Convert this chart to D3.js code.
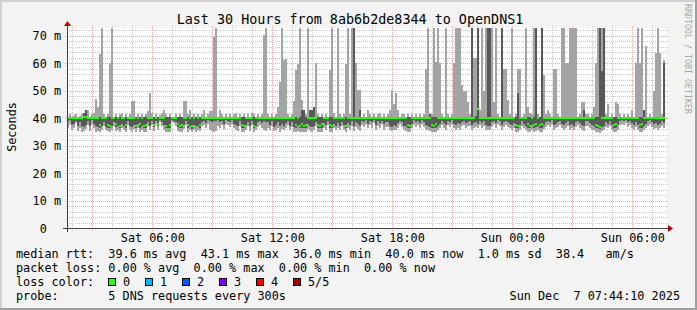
<!DOCTYPE html>
<html>
<head>
<meta charset="utf-8">
<script src="https://cdn.jsdelivr.net/npm/d3@7"></script>
<style>
body { margin: 0; background: #f3f3f3; }
svg text { font-family: "DejaVu Sans Mono", monospace; white-space: pre; }
</style>
</head>
<body>
<div id="plot"></div>
<script>
// ---- data, one sample every 6 minutes ----
const startTime = Date.UTC(2025, 11, 6, 1, 44, 10);
const endTime = Date.UTC(2025, 11, 7, 7, 44, 10);
const stepMinutes = 6;

// highest ping (outer smoke top)
const smokeMax = [
  40.5, 41.5, 40.5, 41.2, 41.5, 40.5, 40.8, 41.5, 42, 43, 43, 40.5, 41.5, 41.8, 46.9, 44, 63.3, 73, 41.5, 40.5,
  41.5, 60, 73, 40.5, 41.5, 40.5, 41.5, 42, 40.5, 41.5, 40.5, 41.5, 46.2, 46.2, 40.5, 41.5, 40.5, 41.5, 40.5, 41.5,
  42.5, 49.2, 42, 40.5, 41.5, 40.5, 41.2, 42, 43, 41.5, 40.5, 41.5, 40.5, 40.5, 41.5, 40.5, 41.5, 40.5, 46.2, 46.2,
  41.5, 43, 40.5, 41.5, 40.5, 41.5, 40.5, 41.5, 43, 40.5, 41.5, 42.7, 42.7, 69.6, 73, 40.5, 43, 41.5, 40.5, 41.5,
  40.5, 41.5, 40.5, 41.5, 42, 40.5, 41.5, 40.5, 41.5, 40.5, 41.5, 40.5, 42, 41.5, 40.5, 41.5, 40.5, 41.5, 70.2, 73,
  41.5, 40.5, 41.5, 40.5, 41.5, 44, 53.2, 73, 61, 61.4, 41.5, 40.5, 41.5, 46.2, 57.4, 59.5, 73, 46.5, 43, 41.5,
  73, 43, 43, 44, 60.1, 41.5, 40.5, 41.5, 40.5, 41.5, 40.5, 57.4, 73, 42, 40.5, 73, 41.5, 40.5, 41.5, 59.5,
  73, 41.5, 73, 73, 60, 50.2, 50.2, 40.5, 41.5, 40.5, 43, 41.5, 40.5, 41.5, 40.5, 41.5, 42, 40.5, 41.5, 40.5,
  41.5, 43, 50.2, 45, 49.2, 43, 40.5, 41.5, 41.5, 40.5, 41.5, 40.5, 41.5, 40.5, 41.5, 40.5, 41.5, 40.5, 41.5, 58,
  73, 41.5, 41.5, 73, 60.2, 73, 60, 41.5, 40.5, 73, 41.5, 40.5, 41.5, 60, 73, 73, 73, 52, 50, 50,
  45.7, 41.5, 73, 62, 61.8, 73, 43, 73, 50, 73, 73, 73, 73, 46, 73, 41.5, 40.5, 73, 58, 58,
  46.7, 41.5, 73, 40.5, 41.5, 58, 58, 40.5, 41.5, 73, 44, 42, 41.5, 73, 73, 41.5, 40.5, 73, 55.6, 41.5,
  43, 41.5, 40.5, 58, 58, 41.5, 40.5, 73, 73, 60, 60, 73, 73, 73, 73, 40.5, 41.5, 46, 46, 41.5,
  41.5, 40.5, 41.5, 44, 60, 73, 73, 73, 73, 41.5, 45, 40.5, 41.5, 40.5, 46, 45, 41.5, 40.5, 41.5, 40.5,
  41.5, 40.5, 43, 40.5, 60, 73, 60, 73, 43, 66.3, 40.5, 41.5, 40.5, 50, 63.5, 73, 63.5, 41.5, 61, null
];

// 4th ping (inner smoke top)
const smokeHigh = [
  40.5, 40.5, 40.5, 40.5, 40.5, 40.5, 40.5, 40.5, 42, 43, 40.5, 40.5, 40.5, 40.5, 40.5, 40.5, 40.5, 40.5, 40.5, 40.5,
  40.5, 40.5, 40.5, 40.5, 40.5, 40.5, 40.5, 40.5, 40.5, 40.5, 40.5, 40.5, 40.5, 40.5, 40.5, 40.5, 40.5, 40.5, 40.5, 40.5,
  40.5, 40.5, 40.5, 40.5, 40.5, 40.5, 40.5, 40.5, 40.5, 40.5, 40.5, 40.5, 40.5, 40.5, 40.5, 40.5, 40.5, 40.5, 40.5, 40.5,
  40.5, 40.5, 40.5, 40.5, 40.5, 40.5, 40.5, 40.5, 40.5, 40.5, 40.5, 40.5, 40.5, 40.5, 40.5, 40.5, 40.5, 40.5, 40.5, 40.5,
  40.5, 40.5, 40.5, 40.5, 40.5, 40.5, 40.5, 40.5, 40.5, 40.5, 40.5, 40.5, 40.5, 40.5, 40.5, 40.5, 40.5, 40.5, 40.5, 40.5,
  40.5, 40.5, 40.5, 40.5, 40.5, 40.5, 40.5, 40.5, 40.5, 40.5, 40.5, 40.5, 40.5, 40.5, 40.5, 40.5, 40.5, 43, 43, 40.5,
  40.5, 43, 43, 44, 40.5, 40.5, 40.5, 40.5, 40.5, 40.5, 40.5, 40.5, 40.5, 40.5, 40.5, 40.5, 40.5, 40.5, 40.5, 40.5,
  40.5, 40.5, 40.5, 73, 40.5, 40.5, 43, 40.5, 40.5, 40.5, 40.5, 40.5, 40.5, 40.5, 40.5, 40.5, 40.5, 40.5, 40.5, 40.5,
  40.5, 40.5, 40.5, 40.5, 40.5, 40.5, 40.5, 40.5, 40.5, 40.5, 40.5, 40.5, 40.5, 40.5, 40.5, 40.5, 40.5, 40.5, 40.5, 40.5,
  40.5, 41.5, 40.5, 40.5, 40.5, 40.5, 40.5, 40.5, 40.5, 40.5, 40.5, 40.5, 40.5, 40.5, 40.5, 40.5, 40.5, 40.5, 40.5, 40.5,
  40.5, 40.5, 73, 40.5, 41.5, 73, 40.5, 40.5, 40.5, 40.5, 73, 73, 40.5, 40.5, 40.5, 40.5, 40.5, 73, 40.5, 40.5,
  40.5, 40.5, 40.5, 40.5, 40.5, 49, 40.5, 40.5, 40.5, 40.5, 40.5, 40.5, 40.5, 40.5, 73, 40.5, 40.5, 73, 40.5, 40.5,
  40.5, 40.5, 40.5, 40.5, 40.5, 40.5, 40.5, 40.5, 40.5, 40.5, 40.5, 40.5, 40.5, 40.5, 40.5, 40.5, 40.5, 40.5, 43, 40.5,
  40.5, 40.5, 40.5, 40.5, 40.5, 40.5, 73, 57, 73, 40.5, 40.5, 40.5, 40.5, 40.5, 40.5, 40.5, 40.5, 40.5, 40.5, 40.5,
  40.5, 40.5, 40.5, 40.5, 40.5, 40.5, 40.5, 40.5, 43, 40.5, 40.5, 40.5, 40.5, 40.5, 40.5, 40.5, 40.5, 40.5, 60, null
];

// median rtt (ms)
const median = [
  40, 40, 40, 40, 40, 40, 40, 40, 40.2, 40.2, 40, 40, 40, 40, 40, 40, 37.5, 40, 40, 40,
  37.5, 37.2, 40, 40, 37.8, 40, 37, 40, 40, 37.5, 40, 40, 40, 40, 37.2, 40, 37.8, 40, 37, 37.5,
  40, 40, 40, 37.5, 40, 37.8, 40, 40, 40, 37, 36, 37.5, 40, 40, 40, 37.8, 37, 37.5, 40, 40,
  37.5, 40, 37, 40, 36.8, 40, 37.5, 40, 40, 40, 40, 40, 40, 40, 40, 40, 40, 40, 40, 40,
  40, 40, 40, 40, 40, 40, 40, 37.5, 37, 40, 40, 40, 40, 37.2, 40, 40, 40, 40, 40, 40,
  40, 40, 40, 40, 40, 40, 40, 40, 40, 40, 40, 40, 40, 40, 37.5, 40, 37.2, 37.8, 37, 37.5,
  40, 40, 40, 40, 40, 37.5, 37, 37.8, 40, 40, 40, 37.5, 37.2, 40, 40, 40, 40, 40, 40, 37.2,
  40, 40, 40, 40, 40, 40, 40, 40, 40, 40, 40, 40, 40, 40, 40, 40, 40, 40, 40, 40,
  40, 40, 40, 40, 40, 40, 40, 40, 40, 40, 37.5, 37, 40, 40, 40, 40, 40, 40, 40, 40,
  40, 40, 37.5, 37.2, 37.8, 40, 40, 40, 40, 40, 40, 40, 40, 40, 40, 40, 40, 40, 40, 40,
  40, 40, 40, 40, 41, 43.1, 40, 40, 40, 40, 40, 40, 40, 40, 40, 40, 40, 40, 40, 40,
  40, 40, 40, 40, 37.5, 37, 40, 40, 40, 40, 37.8, 37.2, 40, 37.5, 37.8, 40, 37.5, 37.8, 40, 40,
  40, 40, 40, 40, 40, 40, 40, 40, 40, 40, 40, 40, 40, 40, 40, 40, 40, 40, 40, 40,
  40, 40, 40, 40, 37.5, 37.2, 36.8, 40, 40, 40, 40, 40, 40, 37.5, 37.8, 40, 40, 40, 40, 40,
  40, 40, 40, 40, 40, 40, 37.5, 37.8, 40, 40, 40, 40, 40, 40, 40, 40, 40, 40, 40, null
];

// 2nd ping (inner smoke bottom)
const smokeLow = [
  38.8, 39.2, 37.5, 38, 39, 37.2, 38.5, 37, 36.8, 37.5, 38.8, 37, 39.2, 38, 37, 36.8, 36.5, 37.2, 38.5, 36.8,
  36.5, 36.2, 37, 38.5, 36.8, 37.2, 36.5, 38, 37, 36.5, 38.8, 37.2, 36.8, 37.5, 36.2, 38, 36.5, 37.2, 36.2, 36.5,
  38.5, 37.2, 38.8, 36.8, 39, 37, 39.2, 38.5, 37.5, 36.5, 35.8, 36.5, 39.2, 39, 38.5, 36.8, 36.2, 36.5, 37.5, 38.8,
  36.5, 37.2, 36, 37.5, 36.2, 37, 36.5, 38.5, 39, 38.2, 39.2, 38.8, 38.5, 39, 38.8, 39.2, 38.5, 39, 38, 39.3,
  39, 38.5, 39.2, 38, 37.5, 37, 38.8, 36.5, 36.2, 37.5, 38.5, 37, 38.8, 36.5, 37.2, 38.5, 39, 38.2, 38.8, 38.5,
  38.5, 37.5, 38.8, 36.8, 37.5, 38.5, 37, 38, 37.2, 38.2, 38.8, 37.2, 38.5, 36.8, 36.5, 37, 36.2, 36.5, 36.2, 36.5,
  38, 37, 36.8, 37.2, 38.5, 36.5, 36.2, 36.5, 38.2, 37.5, 38.8, 36.5, 36.2, 37.8, 37, 38.2, 37.2, 38.5, 37.5, 36.2,
  38.2, 37.5, 38.8, 37, 38.5, 37.8, 37, 39, 38.5, 39.2, 38, 39, 38.5, 39.3, 37.5, 38.8, 38.2, 39, 37.8, 38.5,
  38.5, 37.2, 36.8, 37.5, 37, 38.2, 39, 38.5, 37.2, 37, 36.5, 36.2, 38, 39.2, 38.5, 39, 38.2, 39.2, 38.5, 37.5,
  37.2, 36.8, 36.2, 36.5, 36.2, 37, 38, 38.8, 38.2, 37.5, 39, 38.5, 39.2, 38, 37.5, 38.2, 37.8, 38.5, 39, 38.2,
  38.5, 38.8, 37.5, 38.2, 38.5, 37.8, 39, 38.2, 38.8, 37.5, 37, 37.2, 38.5, 39, 38.2, 39.2, 38.8, 37.5, 38.5, 39,
  38.5, 38, 37.5, 38.2, 36.5, 36.2, 37.5, 38.8, 38, 37.2, 36.5, 36.2, 37.5, 36.5, 36.8, 37.2, 36.2, 36.5, 37.5, 38.5,
  39, 38.5, 39.2, 37.5, 37.8, 38.5, 39, 38, 37.5, 38.2, 38.8, 37.5, 38, 37.2, 38.5, 39, 38.2, 37.5, 37, 38.8,
  38.8, 38.2, 37.5, 37, 36.5, 36.2, 36, 36.8, 37.2, 38.5, 38, 38.8, 37.5, 36.5, 36.5, 37.5, 39, 39.2, 38.8, 39.3,
  38.5, 39, 38.2, 37.5, 38.5, 37.5, 36.5, 36.2, 37, 38, 38.8, 39.2, 38.5, 37.8, 38.2, 37.5, 38, 38.8, 38.2, null
];

// lowest ping (outer smoke bottom)
const smokeMin = [
  36.5, 37.8, 35.5, 36.2, 38.2, 35.2, 36.5, 35, 35.3, 36, 37.5, 35.2, 38, 36.5, 35, 35.2, 35, 35.5, 37, 35.5,
  35.2, 35, 35.5, 37, 35.2, 35.8, 35, 36.5, 35.5, 35, 37.5, 35.5, 35, 36, 34.8, 36.5, 35, 35.5, 34.8, 35,
  37, 35.5, 37.5, 35.2, 38, 35.5, 38.5, 37, 35.8, 35, 34.8, 35, 38.5, 38.2, 37, 35.2, 35, 35, 36, 37.5,
  35, 35.5, 34.8, 35.8, 34.8, 35.5, 35.2, 37, 37.5, 36.2, 37.8, 35.5, 35.2, 35, 35.2, 37, 36.5, 37.5, 36, 38,
  37.5, 36.8, 38, 36.5, 35.5, 35.2, 37, 35, 34.8, 35.8, 37, 35.2, 37.5, 35, 35.5, 36.8, 37.5, 36.2, 35.5, 35.2,
  36.2, 35.5, 37.2, 35.2, 35.8, 36.5, 35, 36, 35.5, 36.5, 37.5, 35.5, 36.8, 35, 35, 35.2, 34.8, 35, 34.8, 35,
  36, 35.2, 35, 35.5, 37, 35, 34.8, 35, 36.5, 35.8, 37.5, 35, 34.8, 36.2, 35.5, 36.5, 35.5, 37, 35.8, 34.8,
  36.5, 35.5, 37.2, 35.2, 36.8, 36, 35.2, 37.5, 36.8, 38, 36.2, 37.5, 36.5, 38.2, 35.5, 37.2, 36.5, 37.8, 35.8, 36.8,
  36.8, 35.5, 35.2, 35.8, 35.5, 36.5, 37.8, 36.8, 35.5, 35.2, 35, 34.8, 36.2, 38, 36.8, 37.5, 36.5, 37.8, 36.8, 35.8,
  35.5, 35.2, 34.8, 35, 34.8, 35.5, 36.2, 37.5, 36.5, 35.8, 37.5, 36.8, 38, 36.2, 35.5, 36.5, 35.8, 37, 37.5, 36.2,
  37, 37.2, 35.8, 36.5, 36.8, 36.2, 37.5, 36.5, 37.2, 35.8, 35.5, 35.5, 36.8, 37.8, 36.5, 38, 37.2, 35.8, 36.8, 37.5,
  36.8, 36.2, 35.8, 36.5, 35, 34.8, 35.5, 37.2, 36.2, 35.5, 35, 34.8, 35.8, 35, 35.2, 35.5, 34.8, 35, 36, 36.8,
  37.5, 36.8, 38, 35.8, 36.2, 36.8, 37.5, 36.2, 35.5, 36.5, 37.2, 35.8, 36.2, 35.5, 36.8, 37.5, 36.5, 35.8, 35.2, 37,
  37.2, 36.5, 35.8, 35.5, 35, 34.8, 34.6, 35.2, 35.5, 36.8, 36.2, 37.2, 35.8, 35, 35, 35.8, 37.5, 38, 37.5, 38.2,
  36.8, 37.5, 36.5, 35.8, 36.8, 35.5, 35, 34.8, 35.5, 36.2, 37.2, 38, 36.8, 36, 36.5, 35.8, 36.2, 37.2, 36.5, null
];

// axis ticks
const yMajorTicks = [0, 10, 20, 30, 40, 50, 60, 70];
const yTickLabels = ["0  ", "10 m", "20 m", "30 m", "40 m", "50 m", "60 m", "70 m"];

// legend
const legendRows = [
  "median rtt:  39.6 ms avg  43.1 ms max  36.0 ms min  40.0 ms now  1.0 ms sd  38.4   am/s",
  "packet loss: 0.00 % avg  0.00 % max  0.00 % min  0.00 % now"
];
const lossLabels = ["0", "1", "2", "3", "4", "5/5"];
const lossColors = ["#26ff00", "#00b8ff", "#0059ff", "#7e00ff", "#ff0000", "#a00000"];
const probeText = "probe:       5 DNS requests every 300s";
const stampText = "Sun Dec  7 07:44:10 2025";
const titleText = "Last 30 Hours from 8ab6b2de8344 to OpenDNS1";

// ---- layout ----
const w = 697;
const h = 310;
const plot = {left: 67, right: 667, top: 28, bottom: 228};

const svg = d3.select("div#plot")
  .append("svg")
    .attr("width", w)
    .attr("height", h);

// background + 3d frame
svg.append("rect").attr("width", w).attr("height", h).attr("fill", "#f3f3f3");
svg.append("rect").attr("x", 0).attr("y", 0).attr("width", w).attr("height", 2).attr("fill", "#d0d0d0");
svg.append("rect").attr("x", 0).attr("y", 0).attr("width", 2).attr("height", h).attr("fill", "#d0d0d0");
svg.append("rect").attr("x", 0).attr("y", h - 2).attr("width", w).attr("height", 2).attr("fill", "#9e9e9e");
svg.append("rect").attr("x", w - 2).attr("y", 0).attr("width", 2).attr("height", h).attr("fill", "#9e9e9e");

// canvas
svg.append("rect")
  .attr("x", plot.left).attr("y", plot.top)
  .attr("width", plot.right - plot.left).attr("height", plot.bottom - plot.top)
  .attr("fill", "#ffffff");

const xScale = d3.scaleUtc()
  .domain([startTime, endTime])
  .range([plot.left, plot.right]);

const yScale = d3.scaleLinear()
  .domain([0, 72.73])
  .range([plot.bottom, plot.top]);

const px = v => Math.round(v) + 0.5;

// grid
const grid = svg.append("g").attr("id", "grid");
const hours = d3.utcHour.range(startTime, endTime);
const yMinor = d3.range(0, 73, 2).filter(v => v % 10 !== 0);

grid.selectAll("line.ymin")
  .data(yMinor)
  .enter().append("line")
    .attr("x1", plot.left).attr("x2", plot.right + 2)
    .attr("y1", d => px(yScale(d))).attr("y2", d => px(yScale(d)))
    .attr("stroke", "#c8c8c8").attr("stroke-dasharray", "1,1");

grid.selectAll("line.xmin")
  .data(hours.filter(d => d.getUTCHours() % 3 !== 0))
  .enter().append("line")
    .attr("x1", d => px(xScale(d))).attr("x2", d => px(xScale(d)))
    .attr("y1", plot.top - 2).attr("y2", plot.bottom + 3)
    .attr("stroke", "#c8c8c8").attr("stroke-dasharray", "1,1");

grid.selectAll("line.ymaj")
  .data(yMajorTicks.slice(1))
  .enter().append("line")
    .attr("x1", plot.left - 2).attr("x2", plot.right + 2)
    .attr("y1", d => px(yScale(d))).attr("y2", d => px(yScale(d)))
    .attr("stroke", "#f0a0a0").attr("stroke-dasharray", "1,1");

grid.selectAll("line.xmaj")
  .data(hours.filter(d => d.getUTCHours() % 3 === 0))
  .enter().append("line")
    .attr("x1", d => px(xScale(d))).attr("x2", d => px(xScale(d)))
    .attr("y1", plot.top - 2).attr("y2", plot.bottom + 3)
    .attr("stroke", "#f0a0a0").attr("stroke-dasharray", "1,1");

// smoke + median
svg.append("clipPath").attr("id", "clip")
  .append("rect")
    .attr("x", plot.left).attr("y", plot.top)
    .attr("width", plot.right - plot.left).attr("height", plot.bottom - plot.top);

const samples = median.map((m, i) => ({
  t0: startTime + i * stepMinutes * 60000,
  t1: startTime + (i + 1) * stepMinutes * 60000,
  p1: smokeMin[i], p2: smokeLow[i], p3: m, p4: smokeHigh[i], p5: smokeMax[i]
})).filter(d => d.p3 !== null);

const marks = svg.append("g").attr("clip-path", "url(#clip)")
  .attr("shape-rendering", "crispEdges");

marks.selectAll("rect.outer")
  .data(samples)
  .enter().append("rect")
    .attr("x", d => xScale(d.t0))
    .attr("width", d => xScale(d.t1) - xScale(d.t0))
    .attr("y", d => yScale(d.p5))
    .attr("height", d => yScale(d.p1) - yScale(d.p5))
    .attr("fill", "#a4a4a4");

marks.selectAll("rect.inner")
  .data(samples)
  .enter().append("rect")
    .attr("x", d => xScale(d.t0))
    .attr("width", d => xScale(d.t1) - xScale(d.t0))
    .attr("y", d => yScale(d.p4))
    .attr("height", d => yScale(d.p2) - yScale(d.p4))
    .attr("fill", "#585858");

marks.selectAll("rect.median")
  .data(samples)
  .enter().append("rect")
    .attr("x", d => xScale(d.t0))
    .attr("width", d => xScale(d.t1) - xScale(d.t0))
    .attr("y", d => yScale(d.p3) - 1)
    .attr("height", 2)
    .attr("fill", lossColors[0]);

// axes
const axis = svg.append("g").attr("stroke", "#404040").attr("shape-rendering", "crispEdges");
axis.append("line")
  .attr("x1", plot.left - 4).attr("x2", plot.right + 2)
  .attr("y1", plot.bottom + 0.5).attr("y2", plot.bottom + 0.5);
axis.append("line")
  .attr("x1", plot.left + 0.5).attr("x2", plot.left + 0.5)
  .attr("y1", plot.bottom + 4).attr("y2", plot.top - 3);

svg.append("path")
  .attr("d", `M${plot.right + 1},${plot.bottom - 3} L${plot.right + 6},${plot.bottom + 0.5} L${plot.right + 1},${plot.bottom + 4} Z`)
  .attr("fill", "#b00000");
svg.append("path")
  .attr("d", `M${plot.left - 3},${plot.top - 2} L${plot.left + 0.5},${plot.top - 7} L${plot.left + 4},${plot.top - 2} Z`)
  .attr("fill", "#b00000");

// y tick labels
svg.selectAll("text.ylab")
  .data(yMajorTicks)
  .enter().append("text")
    .attr("x", 61)
    .attr("y", d => yScale(d) + 4.5)
    .attr("text-anchor", "end")
    .style("font-size", "11.8px")
    .text((d, i) => yTickLabels[i]);

// x tick labels
const fmt = d3.utcFormat("%a %H:%M");
svg.selectAll("text.xlab")
  .data(hours.filter(d => d.getUTCHours() % 6 === 0))
  .enter().append("text")
    .attr("x", d => xScale(d) + 0.5)
    .attr("y", 242)
    .attr("text-anchor", "middle")
    .style("font-size", "11.8px")
    .text(d => fmt(d));

// title
svg.append("text")
  .attr("x", 350)
  .attr("y", 23.5)
  .attr("text-anchor", "middle")
  .style("font-size", "13.4px")
  .text(titleText);

// y axis title
svg.append("text")
  .attr("transform", "translate(15.5, 127) rotate(-90)")
  .attr("text-anchor", "middle")
  .style("font-size", "11.8px")
  .text("Seconds");

// watermark
svg.append("text")
  .attr("transform", "translate(685, 4) rotate(90)")
  .attr("fill", "#a8a8a8")
  .style("font-size", "8.3px")
  .text("RRDTOOL / TOBI OETIKER");

// legend
svg.selectAll("text.legend")
  .data(legendRows)
  .enter().append("text")
    .attr("x", 16)
    .attr("y", (d, i) => 258 + i * 14)
    .style("font-size", "11.8px")
    .text(d => d);

svg.append("text")
  .attr("x", 16).attr("y", 286)
  .style("font-size", "11.8px")
  .text("loss color:");

const lossItem = svg.selectAll("g.loss")
  .data(lossLabels)
  .enter().append("g")
    .attr("transform", (d, i) => `translate(${108 + i * 37}, 0)`);
lossItem.append("rect")
  .attr("x", 0.5).attr("y", 278.5)
  .attr("width", 7).attr("height", 7)
  .attr("fill", (d, i) => lossColors[i])
  .attr("stroke", "#000");
lossItem.append("text")
  .attr("x", 15).attr("y", 286)
  .style("font-size", "11.8px")
  .text(d => d);

svg.append("text")
  .attr("x", 16).attr("y", 299.5)
  .style("font-size", "11.8px")
  .text(probeText);

svg.append("text")
  .attr("x", 680).attr("y", 299.5)
  .attr("text-anchor", "end")
  .style("font-size", "11.8px")
  .text(stampText);
</script>
</body>
</html>
